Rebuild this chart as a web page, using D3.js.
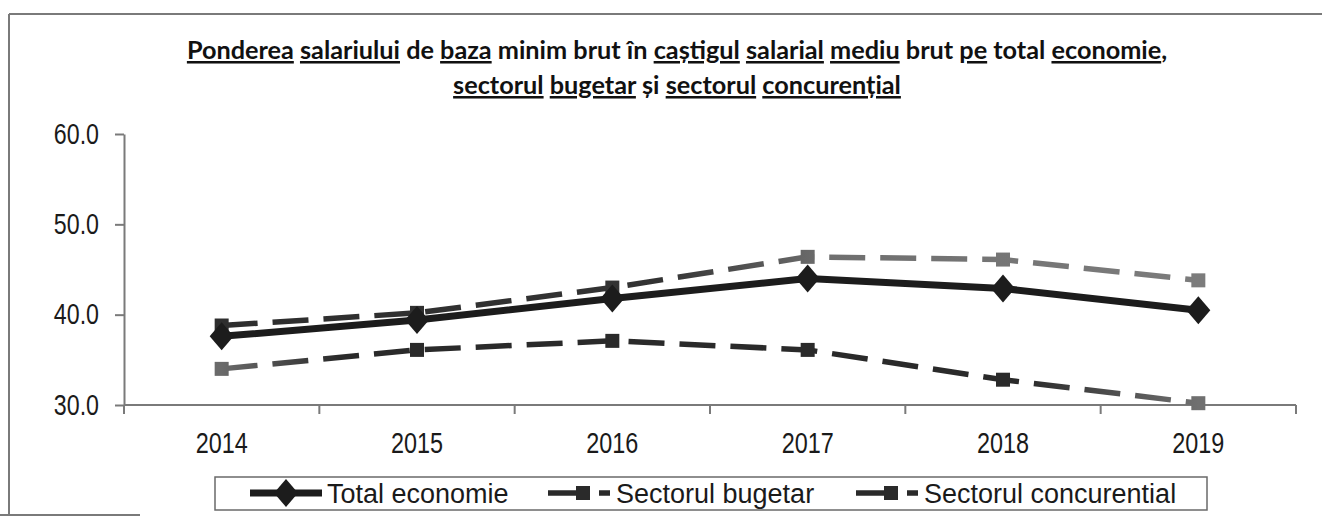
<!DOCTYPE html>
<html>
<head>
<meta charset="utf-8">
<script src="https://cdn.jsdelivr.net/npm/d3@7"></script>
<style>
  html, body { margin: 0; padding: 0; background: #fff; }
  svg { display: block; }
  .label { font-family: "Liberation Sans", Arial, sans-serif; }
</style>
</head>
<body>
<svg id="chart" width="1322" height="516"></svg>
<script>
// data
const years = ["2014", "2015", "2016", "2017", "2018", "2019"];
const totalEconomie = [37.6, 39.4, 41.8, 44.0, 42.9, 40.5];
const sectorulBugetar = [34.0, 36.1, 37.1, 36.1, 32.8, 30.2];
const sectorulConcurential = [38.8, 40.2, 43.0, 46.4, 46.1, 43.8];
const yTicks = [30, 40, 50, 60];
const legendLabels = ["Total economie", "Sectorul bugetar", "Sectorul concurential"];

// title words, second value = underlined in the scan
const titleLine1 = [["Ponderea", 1], ["salariului", 1], ["de", 0], ["baza", 1], ["minim", 0], ["brut", 0], ["în", 0],
  ["caștigul", 1], ["salarial", 1], ["mediu", 1], ["brut", 0], ["pe", 1], ["total", 0], ["economie", 1], [",", 0]];
const titleLine2 = [["sectorul", 1], ["bugetar", 1], ["și", 0], ["sectorul", 1], ["concurențial", 1]];

const svg = d3.select("#chart");

// plot area
const plotLeft = 124, plotRight = 1296, plotTop = 134, plotBottom = 405;

const x = d3.scaleBand().domain(years).range([plotLeft, plotRight]).padding(0);
const y = d3.scaleLinear().domain([30, 60]).range([plotBottom, plotTop]);
const cx = (d) => x(d) + x.bandwidth() / 2;

// the scanned labels are a narrow face; squeeze the regular one
const narrow = "scale(0.8,1)";

// outer frame (only top / left / a bit of bottom visible in the scan)
const frame = svg.append("g").attr("stroke", "#7a7a7a").attr("stroke-width", 2);
frame.append("line").attr("x1", 9).attr("x2", 1322).attr("y1", 14).attr("y2", 14);
frame.append("line").attr("x1", 9).attr("x2", 9).attr("y1", 14).attr("y2", 515);
frame.append("line").attr("x1", 0).attr("x2", 140).attr("y1", 515).attr("y2", 515);

// title
const title = svg.append("g")
  .attr("font-family", "Lato, 'Open Sans', sans-serif")
  .attr("font-weight", 700)
  .attr("fill", "#111");

function titleText(words, baseline) {
  const t = title.append("text")
    .attr("x", 677).attr("y", baseline)
    .attr("text-anchor", "middle")
    .style("white-space", "pre")
    .style("font-size", "22px");
  words.forEach(([w, u], i) => {
    if (i > 0 && w !== ",") t.append("tspan").text(" ");
    t.append("tspan").text(w).style("text-decoration", u ? "underline" : "none");
  });
  return t;
}
const t1 = titleText(titleLine1, 59);
const t2 = titleText(titleLine2, 94);
// fit line 1 to the width it has in the scan
const fs = 22 * 981 / t1.node().getComputedTextLength();
t1.style("font-size", fs + "px");
t2.style("font-size", fs + "px");

// y axis
const yAxis = svg.append("g")
  .attr("transform", `translate(${plotLeft},0)`)
  .call(d3.axisLeft(y).tickValues(yTicks).tickSize(9).tickSizeOuter(0).tickPadding(16).tickFormat(d3.format(".1f")));
yAxis.select(".domain").attr("stroke", "#7a7a7a").attr("stroke-width", 2);
yAxis.selectAll(".tick line").attr("stroke", "#7a7a7a").attr("stroke-width", 2);
yAxis.selectAll("text")
  .attr("class", "label")
  .attr("x", null)
  .attr("transform", "translate(-25,0) " + narrow)
  .attr("font-size", 29)
  .attr("fill", "#1a1a1a");

// x axis: line with ticks between the categories (Excel style)
const xAxis = svg.append("g");
xAxis.append("line")
  .attr("x1", plotLeft).attr("x2", plotRight).attr("y1", plotBottom).attr("y2", plotBottom)
  .attr("stroke", "#7a7a7a").attr("stroke-width", 2);
const edges = years.map((d) => x(d)).concat([x.range()[1]]);
xAxis.selectAll(".xtick").data(edges).join("line")
  .attr("class", "xtick")
  .attr("x1", (d) => d).attr("x2", (d) => d)
  .attr("y1", plotBottom).attr("y2", plotBottom + 9)
  .attr("stroke", "#7a7a7a").attr("stroke-width", 2);
xAxis.selectAll(".xlabel").data(years).join("text")
  .attr("class", "xlabel label")
  .attr("transform", (d) => `translate(${cx(d)},${plotBottom + 48}) scale(0.78,1)`)
  .attr("text-anchor", "middle")
  .attr("font-size", 30)
  .attr("fill", "#1a1a1a")
  .text((d) => d);

// gradients imitate the uneven toner of the scan
const defs = svg.append("defs");
function grad(id, stops) {
  const g = defs.append("linearGradient").attr("id", id)
    .attr("gradientUnits", "userSpaceOnUse")
    .attr("x1", cx(years[0])).attr("x2", cx(years[years.length - 1]))
    .attr("y1", 0).attr("y2", 0);
  stops.forEach(([o, c]) => g.append("stop").attr("offset", o).attr("stop-color", c));
}
grad("gConc", [[0, "#2e2e2e"], [0.45, "#333"], [0.62, "#6f6f6f"], [1, "#7c7c7c"]]);
grad("gBug", [[0, "#6a6a6a"], [0.12, "#2a2a2a"], [0.82, "#2a2a2a"], [1, "#707070"]]);

const line = d3.line().x((d, i) => cx(years[i])).y((d) => y(d));
const dash = "36,15";

const series = [
  { values: sectorulConcurential, color: "url(#gConc)" },
  { values: sectorulBugetar, color: "url(#gBug)" },
];

series.forEach((s) => {
  svg.append("path")
    .datum(s.values)
    .attr("d", line)
    .attr("fill", "none")
    .attr("stroke", s.color)
    .attr("stroke-width", 5.5)
    .attr("stroke-dasharray", dash);
  svg.append("g").selectAll("rect").data(s.values).join("rect")
    .attr("x", (d, i) => cx(years[i]) - 7)
    .attr("y", (d) => y(d) - 7)
    .attr("width", 14).attr("height", 14)
    .attr("fill", s.color);
});

// total economie: solid line with diamonds
const diamond = (px, py) => `M${px},${py - 14}L${px + 12},${py}L${px},${py + 14}L${px - 12},${py}Z`;
svg.append("path")
  .datum(totalEconomie)
  .attr("d", line)
  .attr("fill", "none")
  .attr("stroke", "#1c1c1c")
  .attr("stroke-width", 7)
  .attr("stroke-linejoin", "round");
svg.append("g").selectAll("path").data(totalEconomie).join("path")
  .attr("d", (d, i) => diamond(cx(years[i]), y(d)))
  .attr("fill", "#1c1c1c");

// legend
const lg = svg.append("g");
lg.append("rect")
  .attr("x", 215).attr("y", 477).attr("width", 992).attr("height", 33)
  .attr("fill", "#fff").attr("stroke", "#6a6a6a").attr("stroke-width", 1.5);

const ly = 493;
const sampleStart = [250, 548, 856];
legendLabels.forEach((label, i) => {
  const g = lg.append("g");
  let lx = sampleStart[i];
  if (i === 0) {
    g.append("line").attr("x1", lx).attr("x2", lx + 72).attr("y1", ly).attr("y2", ly)
      .attr("stroke", "#1c1c1c").attr("stroke-width", 7);
    g.append("path").attr("d", diamond(lx + 36, ly)).attr("fill", "#1c1c1c");
    lx += 77;
  } else {
    g.append("line").attr("x1", lx).attr("x2", lx + 62).attr("y1", ly).attr("y2", ly)
      .attr("stroke", "#2a2a2a").attr("stroke-width", 5.5).attr("stroke-dasharray", dash);
    g.append("rect").attr("x", lx + 28).attr("y", ly - 7).attr("width", 14).attr("height", 14)
      .attr("fill", "#2a2a2a");
    lx += 68;
  }
  g.append("text")
    .attr("class", "label")
    .attr("x", lx).attr("y", ly + 10)
    .attr("font-size", 27)
    .attr("fill", "#1a1a1a")
    .text(label);
});
</script>
</body>
</html>
